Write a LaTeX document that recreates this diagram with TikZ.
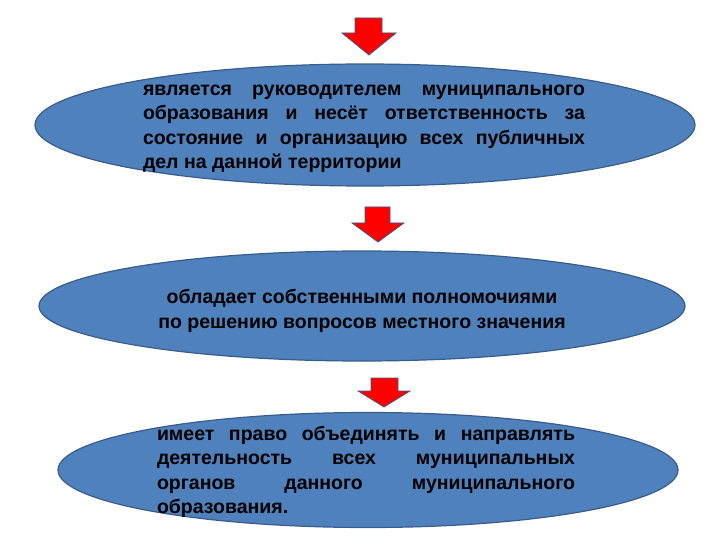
\documentclass[tikz,border=0pt]{standalone}
\usepackage{fontspec}
\setmainfont{Liberation Sans}
\usetikzlibrary{shapes.geometric}

\definecolor{ovalblue}{RGB}{79,129,189}
\definecolor{ovaledge}{RGB}{56,93,138}
\hyphenpenalty=10000

\tikzset{
  oval/.style={ellipse, draw=ovaledge, line width=1.2pt, fill=ovalblue, inner sep=0pt},
  ovaltext/.style={text=black, inner sep=0pt,
    font=\fontsize{19.5}{24.5}\selectfont\bfseries},
  redarrow/.style={fill=red, draw=ovaledge, line width=0.8pt, line join=miter}
}

\begin{document}
\begin{tikzpicture}[x=1pt,y=-1pt]
  \useasboundingbox (0,0) rectangle (720,540);

  % arrows
  \filldraw[redarrow] (355,18) -- (382,18) -- (382,33) -- (396,33) -- (369,55) -- (342,33) -- (355,33) -- cycle;
  \filldraw[redarrow] (365,207) -- (390,207) -- (390,223) -- (404,223) -- (378,242) -- (352,223) -- (365,223) -- cycle;
  \filldraw[redarrow] (371,378) -- (398,378) -- (398,391) -- (410,391) -- (384,407) -- (358,391) -- (371,391) -- cycle;

  % ovals
  \node[oval, minimum width=660pt, minimum height=122pt] (o1) at (365,125) {};
  \node[oval, minimum width=646pt, minimum height=110pt] (o2) at (362,306) {};
  \node[oval, minimum width=620pt, minimum height=115pt] (o3) at (368,470) {};

  \node[ovaltext, text width=442pt, align=justify] (t1) at (364,129)
    {является руководителем муниципального\linebreak
     образования и несёт ответственность за\linebreak
     состояние и организацию всех публичных\linebreak
     дел на данной территории};
  \node[ovaltext, align=center] (t2) at (362,311)
    {обладает собственными полномочиями\\по решению вопросов местного значения};
  \node[ovaltext, text width=418pt, align=justify] (t3) at (366,472)
    {имеет право объединять и направлять\linebreak
     деятельность всех муниципальных\linebreak
     органов данного муниципального\linebreak
     образования.};
\end{tikzpicture}
\end{document}
